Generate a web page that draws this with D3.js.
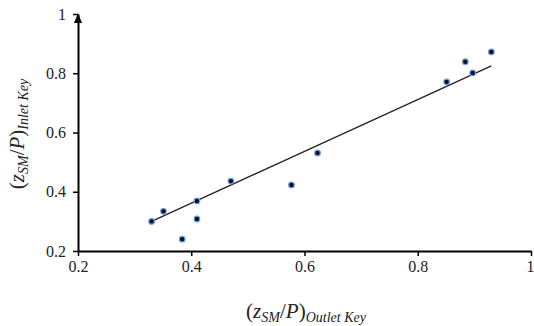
<!DOCTYPE html>
<html>
<head>
<meta charset="utf-8">
<script src="https://cdn.jsdelivr.net/npm/d3@7"></script>
<style>
  body { margin: 0; background: #fff; }
  svg { display: block; font-family: "Liberation Serif", "DejaVu Serif", serif; }
</style>
</head>
<body>
<div id="chart"></div>
<script>
// values
const outletKey = [0.33, 0.351, 0.384, 0.41, 0.41, 0.47, 0.577, 0.623, 0.851, 0.884, 0.897, 0.93];
const inletKey  = [0.30, 0.334, 0.24, 0.369, 0.308, 0.436, 0.423, 0.531, 0.771, 0.839, 0.801, 0.872];
// trend line as drawn in the figure (ends)
const trendX = [0.33, 0.93];
const trendY = [0.30, 0.825];
const xTicks = [0.2, 0.4, 0.6, 0.8, 1];
const yTicks = [0.2, 0.4, 0.6, 0.8, 1];

const width = 534, height = 326;
const svg = d3.select('#chart').append('svg')
  .attr('width', width)
  .attr('height', height);

const x = d3.scaleLinear().domain([0.2, 1]).range([78, 531]);
const y = d3.scaleLinear().domain([0.2, 1]).range([251, 14]);
const fmt = d => d === 1 ? '1' : d3.format('.1f')(d);

// axes
const xAxis = d3.axisBottom(x).tickValues(xTicks).tickFormat(fmt).tickSize(5).tickSizeOuter(0).tickPadding(5);
const yAxis = d3.axisLeft(y).tickValues(yTicks).tickFormat(fmt).tickSize(5).tickSizeOuter(0).tickPadding(7);

const gX = svg.append('g').attr('transform', `translate(0, ${y(0.2)})`).call(xAxis);
const gY = svg.append('g').attr('transform', `translate(${x(0.2)}, 0)`).call(yAxis);

[gX, gY].forEach(g => {
  g.attr('font-family', '"Liberation Serif", serif').attr('font-size', 16);
  g.select('.domain').attr('stroke', '#000').attr('stroke-width', 2);
  g.selectAll('.tick line').attr('stroke', '#000').attr('stroke-width', 1.5);
  g.selectAll('.tick text').attr('fill', '#222');
});
// last x label sits on the page edge
gX.selectAll('.tick text').filter(d => d === 1).attr('text-anchor', 'end').attr('dx', 3);

// arrow at top of y axis
svg.append('path')
  .attr('d', `M${x(0.2) - 4},${y(1) + 9} L${x(0.2)},${y(1) - 1} L${x(0.2) + 4},${y(1) + 9} Z`)
  .attr('fill', '#000');

// trend line
svg.append('line')
  .attr('x1', x(trendX[0])).attr('y1', y(trendY[0]))
  .attr('x2', x(trendX[1])).attr('y2', y(trendY[1]))
  .attr('stroke', '#222')
  .attr('stroke-width', 1.3);

// points
svg.append('g').selectAll('circle')
  .data(outletKey.map((v, i) => [v, inletKey[i]]))
  .enter()
  .append('circle')
  .attr('cx', d => x(d[0]))
  .attr('cy', d => y(d[1]))
  .attr('r', 2.8)
  .attr('fill', '#06102a')
  .attr('stroke', '#6f9fd6')
  .attr('stroke-width', 1.2);

// axis titles
const title = (g, sub) => {
  const t = g.append('text')
    .attr('text-anchor', 'middle')
    .style('font-size', '21px')
    .attr('fill', '#222');
  t.append('tspan').text('(');
  t.append('tspan').style('font-style', 'italic').text('z');
  t.append('tspan').style('font-style', 'italic').style('font-size', '14px').attr('dy', 4).text('SM');
  t.append('tspan').attr('dy', -4).text('/');
  t.append('tspan').style('font-style', 'italic').text('P');
  t.append('tspan').text(')');
  t.append('tspan').style('font-style', 'italic').style('font-size', '14px').attr('dy', 4).text(sub);
  return t;
};

title(svg.append('g').attr('transform', 'translate(306, 318)'), 'Outlet Key');
title(svg.append('g').attr('transform', 'translate(24, 134) rotate(-90)'), 'Inlet Key');
</script>
</body>
</html>
